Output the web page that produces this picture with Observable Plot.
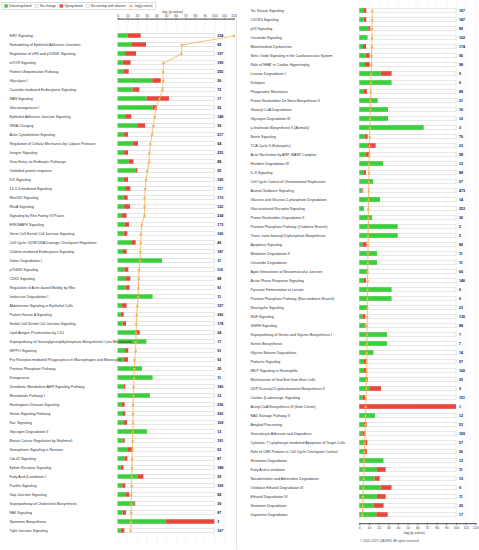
<!DOCTYPE html>
<html><head><meta charset="utf-8">
<script src="https://cdn.jsdelivr.net/npm/d3@7"></script>
<script src="https://cdn.jsdelivr.net/npm/@observablehq/plot@0.6"></script>
<style>
body{margin:0;background:#fff;font-family:"Liberation Sans",Arial,sans-serif}
#wrap{position:relative;width:479px;height:550px;overflow:hidden}
#wrap svg{position:absolute;top:0}
</style></head><body><div id="wrap"></div>
<script>
const leftNames = ["EIF2 Signaling","Remodeling of Epithelial Adherens Junctions","Regulation of eIF4 and p70S6K Signaling","mTOR Signaling","Protein Ubiquitination Pathway","Glycolysis I","Caveolar-mediated Endocytosis Signaling","RAN Signaling","Gluconeogenesis I","Epithelial Adherens Junction Signaling","tRNA Charging","Actin Cytoskeleton Signaling","Regulation of Cellular Mechanics by Calpain Protease","Integrin Signaling","Virus Entry via Endocytic Pathways","Unfolded protein response","ILK Signaling","14-3-3-mediated Signaling","RhoGDI Signaling","RhoA Signaling","Signaling by Rho Family GTPases","ERK/MAPK Signaling","Germ Cell-Sertoli Cell Junction Signaling","Cell Cycle: G2/M DNA Damage Checkpoint Regulation","Clathrin-mediated Endocytosis Signaling","Valine Degradation I","p70S6K Signaling","CDK5 Signaling","Regulation of Actin-based Motility by Rho","Isoleucine Degradation I","Aldosterone Signaling in Epithelial Cells","Protein Kinase A Signaling","Sertoli Cell-Sertoli Cell Junction Signaling","Lipid Antigen Presentation by CD1","Superpathway of Geranylgeranyldiphosphate Biosynthesis I (via Mevalonate)","HIPPO Signaling","Fcγ Receptor-mediated Phagocytosis in Macrophages and Monocytes","Pentose Phosphate Pathway","Ketogenesis","Xenobiotic Metabolism AHR Signaling Pathway","Mevalonate Pathway I","Huntington's Disease Signaling","Sirtuin Signaling Pathway","Rac Signaling","Glycogen Degradation II","Breast Cancer Regulation by Stathmin1","Semaphorin Signaling in Neurons","Cdc42 Signaling","Ephrin Receptor Signaling","Fatty Acid β-oxidation I","Paxillin Signaling","Gap Junction Signaling","Superpathway of Cholesterol Biosynthesis","FAK Signaling","Spermine Biosynthesis","Tight Junction Signaling"];
const leftTotals = [224,68,157,199,255,26,72,17,25,148,39,217,54,222,88,55,195,117,173,122,234,173,160,49,187,11,110,88,91,11,157,390,178,24,17,91,93,20,11,180,12,236,292,109,13,191,52,87,188,29,109,58,29,87,2,167];
const leftDown = [10.3,14.8,7.6,5.2,6.6,35.9,15.5,30.0,36.2,7.9,20.3,6.6,15.5,6.6,11.4,19.0,6.2,7.9,5.9,6.6,4.5,7.2,6.2,14.8,5.5,45.9,6.9,8.6,8.3,36.2,4.5,3.1,5.2,18.3,29.7,7.6,6.6,25.2,36.2,5.9,33.4,3.8,5.5,5.9,30.3,5.2,10.7,6.9,3.1,20.7,4.8,8.6,17.2,5.2,50.0,3.1];
const leftUp = [13.5,14.5,11.4,8.2,4.8,8.6,6.9,23.1,4.5,6.2,8.0,4.1,5.5,4.1,4.8,1.3,4.5,5.2,4.4,6.2,4.8,4.5,3.8,3.8,3.8,0,4.1,4.5,4.1,0,4.8,3.1,3.4,4.5,0,3.4,4.1,0,0,2.0,0,3.4,2.4,3.8,0,2.0,4.8,3.1,2.8,5.9,3.1,3.5,1.0,3.4,50.0,3.8];
const leftLogP = [120,66,65.5,47,46.5,46.5,46,42.7,39,37.8,36.4,35,33.3,32.3,32,30.2,28.8,28,27.4,27.4,27.2,24.3,23.6,23.3,23,22.7,21.5,21.2,21,20.7,19.8,19.2,18.8,18.5,18.2,18,17,16.7,16.4,16,15.7,15.4,15.3,15.3,15,15,14.7,14.4,14.4,14,14,13.7,13.5,13.5,13.2,13];

const rightNames = ["Tec Kinase Signaling","CXCR4 Signaling","p53 Signaling","Ceramide Signaling","Mitochondrial Dysfunction","Nitric Oxide Signaling in the Cardiovascular System","Role of NFAT in Cardiac Hypertrophy","Leucine Degradation I","Ketolysis","Phagosome Maturation","Purine Nucleotides De Novo Biosynthesis II","Glutaryl-CoA Degradation","Glycogen Degradation III","γ-linolenate Biosynthesis II (Animals)","Netrin Signaling","TCA Cycle II (Eukaryotic)","Actin Nucleation by ARP-WASP Complex","Histidine Degradation III","IL-8 Signaling","Cell Cycle Control of Chromosomal Replication","Axonal Guidance Signaling","Glucose and Glucose-1-phosphate Degradation","Glucocorticoid Receptor Signaling","Purine Nucleotides Degradation II","Pentose Phosphate Pathway (Oxidative Branch)","Trans, trans-farnesyl Diphosphate Biosynthesis","Apoptosis Signaling","Melatonin Degradation II","Ceramide Degradation","Agrin Interactions at Neuromuscular Junction","Acute Phase Response Signaling","Pyruvate Fermentation to Lactate","Pentose Phosphate Pathway (Non-oxidative Branch)","Neuregulin Signaling","NGF Signaling","GNRH Signaling","Superpathway of Serine and Glycine Biosynthesis I","Serine Biosynthesis","Glycine Betaine Degradation","Prolactin Signaling","fMLP Signaling in Neutrophils","Mechanisms of Viral Exit from Host Cells","UDP-N-acetyl-D-galactosamine Biosynthesis II","Cardiac β-adrenergic Signaling","Acetyl-CoA Biosynthesis III (from Citrate)","NAD Salvage Pathway II","Amyloid Processing","Granulocyte Adhesion and Diapedesis","Cytotoxic T Lymphocyte-mediated Apoptosis of Target Cells","Role of CHK Proteins in Cell Cycle Checkpoint Control","Histamine Degradation","Fatty Acid α-oxidation","Noradrenaline and Adrenaline Degradation","Oxidative Ethanol Degradation III","Ethanol Degradation IV","Serotonin Degradation","Dopamine Degradation"];
const rightTotals = [167,187,85,102,174,90,98,9,6,88,21,10,10,3,70,23,58,12,88,57,473,14,253,30,5,5,80,11,11,60,146,6,6,23,130,88,7,7,14,97,100,35,9,151,1,12,53,169,57,50,12,11,19,9,11,20,17];
const rightDown = [4.1,4.5,9.3,8.6,3.8,6.6,5.9,22.2,33.4,4.1,19.0,29.7,29.7,66.6,5.5,8.3,6.6,24.5,4.1,14.1,2.3,21.4,4.8,13.1,39.7,39.7,3.4,18.3,18.3,7.6,4.8,33.4,33.4,8.6,3.4,5.5,28.6,28.6,14.5,4.1,4.1,6.2,11.0,3.4,0,16.2,4.1,3.1,4.8,4.1,25.0,18.2,15.8,22.2,18.2,15.0,17.6];
const rightUp = [3.1,2.7,2.1,0,3.1,4.1,4.8,11.2,0,3.8,0,0,0,0,3.1,8.6,3.7,0,2.8,0,1.2,0,0,0,0,0,4.2,0,0,1.0,2.1,0,0,0,2.8,1.0,0,0,0,3.5,3.5,2.4,11.4,2.5,100,0,3.5,2.8,3.5,3.8,0,9.1,5.3,11.1,9.1,10.0,11.8];
const rightLogP = [12.9,12.8,12.7,12.6,12.5,12.2,12,11.8,11.5,11.3,11,10.8,10.6,10.4,10.2,10,9.8,9.6,9.4,9.3,9.2,9,8.9,8.8,8.7,8.6,8.5,8.4,8.3,8.2,8.1,8,7.9,7.8,7.7,7.6,7.5,7.4,7.3,7.2,7,6.8,6.6,6.4,6.2,6,5.7,5.4,5.1,4.8,4.5,4.2,3.9,3.6,3.3,3,2.7];

const xTicks = [0,10,20,30,40,50,60,70,80,90,100,110,120];
const trackEnd = 100;
const legendItems = ["Downregulated","No change","Upregulated","No overlap with dataset","-log(p-value)"];

const GREEN = "#3ccf3c", RED = "#e8473d", ORANGE = "#f0a73a";

function rows(names, totals, down, up, logp) {
  return names.map((name, i) => ({name, total: String(totals[i]), down: down[i], up: up[i], logp: logp[i]}));
}

function panel(data, o) {
  const inset = o.inset;
  const marks = [
    Plot.ruleX(xTicks, {stroke: "#ececec", strokeWidth: 0.4}),
    Plot.barX(data, {x1: () => 0, x2: () => trackEnd, y: "name", fill: "#fff", stroke: "#cdcdcd", strokeWidth: 0.5, insetTop: inset, insetBottom: inset}),
    Plot.barX(data, {x1: () => 0, x2: "down", y: "name", fill: GREEN, insetTop: inset, insetBottom: inset}),
    Plot.barX(data, {x1: "down", x2: d => d.down + d.up, y: "name", fill: RED, insetTop: inset, insetBottom: inset}),
    Plot.line(data, {x: "logp", y: "name", stroke: ORANGE, strokeWidth: 0.7}),
    Plot.dot(data, {x: "logp", y: "name", r: 1.1, fill: "#f8c66e", stroke: "#e39a25", strokeWidth: 0.4}),
    Plot.text(data, {y: "name", text: "name", frameAnchor: "left", textAnchor: "start", dx: o.labelX - o.marginLeft, fontSize: 3.6, fill: "#333"}),
    Plot.text(data, {x: () => trackEnd, y: "name", text: "total", textAnchor: "start", dx: 2.5, fontSize: 3.6, fontWeight: "bold", fill: "#111"}),
    Plot.text([o.axisTitle], {frameAnchor: o.axis, dy: o.titleDy, dx: -4, fontSize: 3.7, fill: "#333"})
  ];
  if (o.extra) marks.push(...o.extra);
  return Plot.plot({
    width: o.width, height: 550,
    marginLeft: o.marginLeft, marginRight: o.marginRight, marginTop: o.marginTop, marginBottom: o.marginBottom,
    style: {fontFamily: "Liberation Sans, Arial, sans-serif", fontSize: "3.4px", background: "transparent", overflow: "visible", color: "#444"},
    x: {domain: [0, 120], axis: o.axis, ticks: xTicks, tickSize: 1.5, tickPadding: 1, label: null, line: true},
    y: {domain: data.map(d => d.name), axis: null, padding: 0},
    marks
  });
}

const wrap = document.getElementById("wrap");

const left = panel(rows(leftNames, leftTotals, leftDown, leftUp, leftLogP), {
  width: 240, marginLeft: 117.7, marginRight: 6.5, marginTop: 18.6, marginBottom: 2.8,
  labelX: 9, axis: "top", axisTitle: "-log (p-value)", titleDy: -9, inset: 2.3
});
left.style.left = "0px";
wrap.appendChild(left);

const right = panel(rows(rightNames, rightTotals, rightDown, rightUp, rightLogP), {
  width: 239, marginLeft: 119.3, marginRight: 3.7, marginTop: 1.1, marginBottom: 26.8,
  labelX: 10, axis: "bottom", axisTitle: "-log (p-value)", titleDy: 10, inset: 2.2,
  extra: [Plot.text(["© 2000-2019 QIAGEN. All rights reserved."], {frameAnchor: "bottom-left", dy: 18, textAnchor: "start", fontSize: 3.2, fill: "#555"})]
});
right.style.left = "240px";
wrap.appendChild(right);

// overlay: divider and legend
const div = d3.create("svg").attr("width", 479).attr("height", 550).style("left", "0px").style("pointer-events", "none");
wrap.appendChild(div.node());
div.append("line").attr("x1", 236.5).attr("x2", 236.5).attr("y1", 16).attr("y2", 550).attr("stroke", "#d8d8d8").attr("stroke-width", 0.6);

const lg = div.append("g").attr("font-family", "Liberation Sans, Arial, sans-serif").attr("font-size", 3.3);
const bg = lg.append("rect");
let cx = 4.5;
const ly = 6;
const fills = [GREEN, "#fff", RED, "#fff", null];
legendItems.forEach((label, i) => {
  if (fills[i] === null) {
    lg.append("line").attr("x1", cx - 0.5).attr("x2", cx + 3.7).attr("y1", ly).attr("y2", ly).attr("stroke", ORANGE).attr("stroke-width", 0.7);
    lg.append("circle").attr("cx", cx + 1.6).attr("cy", ly).attr("r", 1).attr("fill", "#f8c66e").attr("stroke", "#e39a25").attr("stroke-width", 0.4);
  } else {
    lg.append("rect").attr("x", cx).attr("y", ly - 1.6).attr("width", 3.2).attr("height", 3.2).attr("fill", fills[i]).attr("stroke", "#999").attr("stroke-width", 0.3);
  }
  const t = lg.append("text").attr("x", cx + 4.6).attr("y", ly + 1.2).attr("fill", "#333").text(label);
  const w = t.node().getComputedTextLength() || label.length * 1.7;
  cx += 4.6 + w + 4;
});
bg.attr("x", 2).attr("y", 2.6).attr("width", cx - 3).attr("height", 6.8).attr("fill", "#fff").attr("stroke", "#aaa").attr("stroke-width", 0.4);
</script></body></html>
